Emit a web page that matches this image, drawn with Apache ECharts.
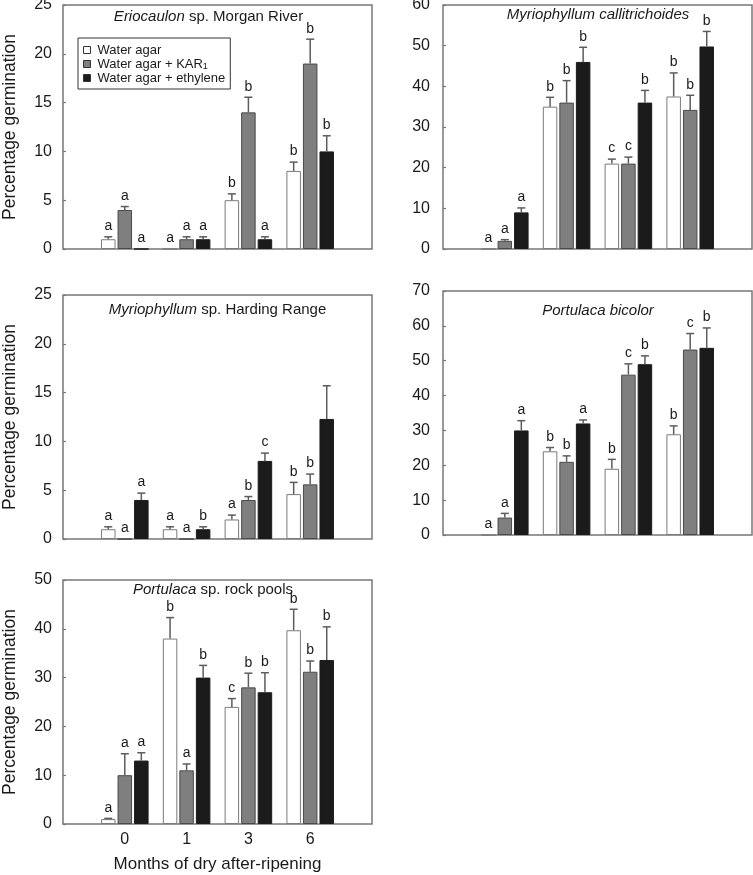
<!DOCTYPE html>
<html><head><meta charset="utf-8">
<script src="https://cdn.jsdelivr.net/npm/echarts@6/dist/echarts.min.js"></script>
<style>html,body{margin:0;padding:0;background:#fff}#c{width:753px;height:875px}</style>
</head><body><div id="c"></div>
<script>
// ---- categories & labels ----
const months = ['0', '1', '3', '6'];
const treatments = ['Water agar', 'Water agar + KAR1', 'Water agar + ethylene'];
const yAxisTitle = 'Percentage germination';
const xAxisTitle = 'Months of dry after-ripening';

// ---- Panel 1: Eriocaulon sp. Morgan River ----
const erioWater = [1.0, 0, 5.0, 8.0];
const erioWaterErr = [1.25, 0, 5.65, 8.9];
const erioKar = [4.0, 1.0, 14.0, 19.0];
const erioKarErr = [4.35, 1.25, 15.55, 21.5];
const erioEth = [0, 1.0, 1.0, 10.0];
const erioEthErr = [0, 1.25, 1.25, 11.6];
const erioLetWater = ['a', 'a', 'b', 'b'];
const erioLetKar = ['a', 'a', 'b', 'b'];
const erioLetEth = ['a', 'a', 'a', 'b'];

// ---- Panel 2: Myriophyllum callitrichoides ----
const mcWater = [0, 35.0, 21.0, 37.5];
const mcWaterErr = [0, 37.3, 22.1, 43.3];
const mcKar = [2.0, 36.0, 21.0, 34.2];
const mcKarErr = [2.3, 41.4, 22.6, 37.8];
const mcEth = [9.0, 46.0, 36.0, 49.8];
const mcEthErr = [10.1, 49.6, 39.0, 53.5];
const mcLetWater = ['a', 'b', 'c', 'b'];
const mcLetKar = ['a', 'b', 'c', 'b'];
const mcLetEth = ['a', 'b', 'b', 'b'];

// ---- Panel 3: Myriophyllum sp. Harding Range ----
const mhWater = [1.0, 1.0, 2.0, 4.6];
const mhWaterErr = [1.25, 1.25, 2.45, 5.8];
const mhKar = [0, 0, 4.0, 5.6];
const mhKarErr = [0, 0, 4.35, 6.65];
const mhEth = [4.0, 1.0, 8.0, 12.3];
const mhEthErr = [4.7, 1.25, 8.8, 15.7];
const mhLetWater = ['a', 'a', 'a', 'b'];
const mhLetKar = ['a', 'a', 'b', 'b'];
const mhLetEth = ['a', 'b', 'c', ''];

// ---- Panel 4: Portulaca bicolor ----
const pbWater = [0, 24.0, 19.0, 28.9];
const pbWaterErr = [0, 25.1, 21.7, 31.3];
const pbKar = [5.0, 21.0, 46.0, 53.2];
const pbKarErr = [6.2, 22.7, 49.1, 57.8];
const pbEth = [30.0, 32.0, 49.0, 53.7];
const pbEthErr = [32.8, 33.0, 51.4, 59.4];
const pbLetWater = ['a', 'b', 'b', 'b'];
const pbLetKar = ['a', 'b', 'c', 'c'];
const pbLetEth = ['a', 'a', 'b', 'b'];

// ---- Panel 5: Portulaca sp. rock pools ----
const prWater = [1.0, 38.0, 24.0, 39.7];
const prWaterErr = [1.15, 42.3, 25.7, 44.0];
const prKar = [10.0, 11.0, 28.0, 31.2];
const prKarErr = [14.4, 12.3, 30.9, 33.4];
const prEth = [13.0, 30.0, 27.0, 33.6];
const prEthErr = [14.6, 32.5, 31.0, 40.4];
const prLetWater = ['a', 'b', 'c', 'b'];
const prLetKar = ['a', 'a', 'b', 'b'];
const prLetEth = ['a', 'b', 'b', 'b'];

// ---- styling ----
const FONT = '"Liberation Sans", Arial, Helvetica, sans-serif';
const BAR_W = 14.5;
const BAR_GAP = 0.14;
const PITCH = BAR_W * (1 + BAR_GAP);
const fills = ['#ffffff', '#7f7f7f', '#1b1b1b'];
const borders = ['#7a7a7a', '#4a4a4a', '#1b1b1b'];
const ERR_COLOR = '#5c5c5c';

const panels = [
  { title: '{i|Eriocaulon} sp. Morgan River', tx: 208.5, ty: 17, max: 25, interval: 5,
    grid: { left: 63, top: 5, width: 309, height: 244 }, yName: true, xLabels: false, labMargin: 11,
    vals: [erioWater, erioKar, erioEth], errs: [erioWaterErr, erioKarErr, erioEthErr], lets: [erioLetWater, erioLetKar, erioLetEth] },
  { title: '{i|Myriophyllum callitrichoides}', tx: 598, ty: 15, max: 60, interval: 10,
    grid: { left: 443, top: 5, width: 309, height: 244 }, yName: false, xLabels: false, labMargin: 13,
    vals: [mcWater, mcKar, mcEth], errs: [mcWaterErr, mcKarErr, mcEthErr], lets: [mcLetWater, mcLetKar, mcLetEth] },
  { title: '{i|Myriophyllum} sp. Harding Range', tx: 217.5, ty: 310, max: 25, interval: 5,
    grid: { left: 63, top: 295, width: 309, height: 244 }, yName: true, xLabels: false, labMargin: 11,
    vals: [mhWater, mhKar, mhEth], errs: [mhWaterErr, mhKarErr, mhEthErr], lets: [mhLetWater, mhLetKar, mhLetEth] },
  { title: '{i|Portulaca bicolor}', tx: 598, ty: 311, max: 70, interval: 10,
    grid: { left: 443, top: 291, width: 309, height: 244 }, yName: false, xLabels: false, labMargin: 13,
    vals: [pbWater, pbKar, pbEth], errs: [pbWaterErr, pbKarErr, pbEthErr], lets: [pbLetWater, pbLetKar, pbLetEth] },
  { title: '{i|Portulaca} sp. rock pools', tx: 213, ty: 590, max: 50, interval: 10,
    grid: { left: 63, top: 580, width: 309, height: 244 }, yName: true, xLabels: true, labMargin: 11,
    vals: [prWater, prKar, prEth], errs: [prWaterErr, prKarErr, prEthErr], lets: [prLetWater, prLetKar, prLetEth] }
];

const axisCats = [''].concat(months).concat([' ']);

function errRender(vals, errs, letters, off) {
  return function (params, api) {
    const i = params.dataIndex;
    const cat = api.value(0);
    const base = api.coord([cat, vals[i]]);
    const top = api.coord([cat, errs[i]]);
    const x = base[0] + off;
    const children = [];
    if (errs[i] > vals[i]) {
      children.push({ type: 'line', shape: { x1: x, y1: base[1], x2: x, y2: top[1] }, style: { stroke: ERR_COLOR, lineWidth: 1.5 } });
      children.push({ type: 'line', shape: { x1: x - 4, y1: top[1], x2: x + 4, y2: top[1] }, style: { stroke: ERR_COLOR, lineWidth: 1.5 } });
    }
    const ty = Math.min(base[1], top[1]);
    if (letters[i]) {
      children.push({ type: 'text', style: { text: letters[i], x: x, y: ty - 3.5, align: 'center', verticalAlign: 'bottom', font: '14px ' + FONT, fill: '#1a1a1a' } });
    }
    return { type: 'group', children: children };
  };
}

const grids = [], xAxes = [], yAxes = [], series = [], graphics = [];
panels.forEach((p, pi) => {
  grids.push(Object.assign({ show: true, borderColor: '#777', borderWidth: 1.5, backgroundColor: 'transparent', outerBoundsMode: 'none', containLabel: false }, p.grid));
  xAxes.push({
    type: 'category', gridIndex: pi, data: axisCats, boundaryGap: false,
    axisLine: { show: false }, axisTick: { show: false }, splitLine: { show: false },
    axisLabel: { show: p.xLabels, interval: 0, margin: 8, fontSize: 16, fontFamily: FONT, color: '#1a1a1a' },
    name: p.xLabels ? xAxisTitle : '', nameLocation: 'middle', nameGap: 32,
    nameTextStyle: { fontSize: 17, fontFamily: FONT, color: '#1a1a1a' }
  });
  yAxes.push({
    type: 'value', gridIndex: pi, min: 0, max: p.max, interval: p.interval,
    axisLine: { show: false }, splitLine: { show: false },
    axisTick: { show: true, inside: true, length: 3, lineStyle: { color: '#777', width: 1.2 } },
    axisLabel: { margin: p.labMargin, fontSize: 16, fontFamily: FONT, color: '#1a1a1a' },
    name: p.yName ? yAxisTitle : '', nameLocation: 'middle', nameGap: 44,
    nameTextStyle: { fontSize: 17.5, fontFamily: FONT, color: '#1a1a1a' }
  });
  for (let t = 0; t < 3; t++) {
    series.push({
      type: 'bar', name: treatments[t], xAxisIndex: pi, yAxisIndex: pi,
      barWidth: BAR_W, barGap: (BAR_GAP * 100) + '%',
      itemStyle: { color: fills[t], borderColor: borders[t], borderWidth: 1 },
      emphasis: { disabled: true },
      data: months.map((m, i) => [i + 1, p.vals[t][i]])
    });
  }
  for (let t = 0; t < 3; t++) {
    series.push({
      type: 'custom', name: 'err' + pi + '_' + t, xAxisIndex: pi, yAxisIndex: pi, z: 5, clip: false,
      renderItem: errRender(p.vals[t], p.errs[t], p.lets[t], (t - 1) * PITCH),
      data: months.map((m, i) => [i + 1, p.vals[t][i], p.errs[t][i]])
    });
  }
  graphics.push({
    type: 'text', x: p.tx, y: p.ty, z: 10,
    style: { text: p.title, align: 'center', verticalAlign: 'middle', font: '15px ' + FONT, fill: '#1a1a1a',
      rich: { i: { fontStyle: 'italic', fontSize: 15, fontFamily: FONT, fill: '#1a1a1a' } } }
  });
});

const chart = echarts.init(document.getElementById('c'), null, { renderer: 'canvas' });
chart.setOption({
  animation: false,
  backgroundColor: '#fff',
  grid: grids, xAxis: xAxes, yAxis: yAxes, series: series,
  graphic: graphics,
  legend: {
    data: treatments, orient: 'vertical', left: 78, top: 38,
    padding: [5, 5, 4, 5], itemGap: 0, itemWidth: 7, itemHeight: 7,
    borderColor: '#333', borderWidth: 1, backgroundColor: '#fff', icon: 'rect',
    selectedMode: false,
    itemStyle: { borderColor: '#333', borderWidth: 1 },
    textStyle: { fontSize: 13, fontFamily: FONT, color: '#1a1a1a', lineHeight: 14, padding: [0, 0, 0, 2],
      rich: { sub: { fontSize: 9, fontFamily: FONT, color: '#1a1a1a', lineHeight: 6, verticalAlign: 'bottom' } } },
    formatter: function (name) { return name === 'Water agar + KAR1' ? 'Water agar + KAR{sub|1}' : name; }
  }
});
</script>
</body></html>
